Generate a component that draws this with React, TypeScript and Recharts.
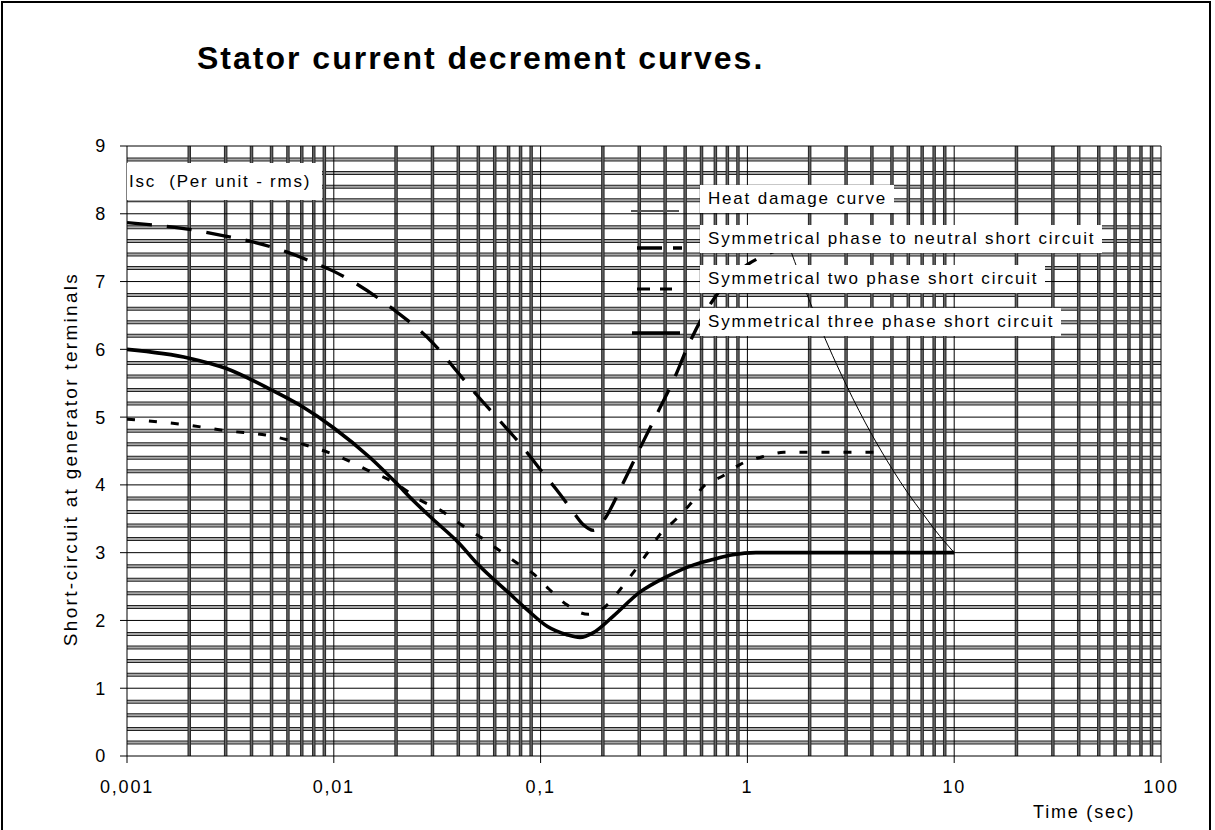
import React from "react";
import { LineChart, Line, XAxis, YAxis, CartesianGrid, Legend } from "recharts";

const FONT = "'Liberation Sans', Arial, sans-serif";

// time (s) / current (p.u. rms)
const T_HEAT = [1.6, 2, 3, 4, 4.5, 5, 6, 7, 8, 9, 10];
const I_HEAT = [7.5, 6.71, 5.48, 4.74, 4.47, 4.24, 3.87, 3.59, 3.35, 3.16, 3.0];

const T_PN = [
  0.001, 0.002, 0.003, 0.004, 0.005, 0.006, 0.008, 0.01, 0.02, 0.03, 0.04, 0.05, 0.06, 0.07, 0.08, 0.09,
  0.1, 0.12, 0.14, 0.16, 0.18, 0.2, 0.25, 0.3, 0.37, 0.44, 0.52, 0.6, 0.8, 1, 1.2, 1.5, 4.5,
];
const I_PN = [
  7.87, 7.77, 7.67, 7.59, 7.51, 7.43, 7.28, 7.15, 6.56, 6.1, 5.65, 5.3, 5.03, 4.8, 4.6, 4.4,
  4.22, 3.92, 3.65, 3.42, 3.33, 3.46, 4.02, 4.52, 5.08, 5.55, 6.07, 6.45, 7.0, 7.25, 7.38, 7.48, 7.48,
];

const T_2P = [
  0.001, 0.002, 0.003, 0.005, 0.008, 0.01, 0.015, 0.02, 0.026, 0.033, 0.04, 0.05, 0.062, 0.075, 0.093, 0.11,
  0.134, 0.17, 0.21, 0.243, 0.286, 0.324, 0.378, 0.45, 0.53, 0.61, 0.76, 0.92, 1.2, 1.5, 4.3,
];
const I_2P = [
  4.97, 4.88, 4.8, 4.72, 4.55, 4.45, 4.2, 4.02, 3.78, 3.62, 3.44, 3.25, 3.05, 2.87, 2.68, 2.46,
  2.23, 2.09, 2.23, 2.46, 2.74, 2.97, 3.27, 3.49, 3.72, 3.97, 4.13, 4.3, 4.42, 4.48, 4.48,
];

const T_3P = [
  0.001, 0.002, 0.003, 0.005, 0.007, 0.01, 0.015, 0.02, 0.024, 0.03, 0.04, 0.05, 0.07, 0.086, 0.108,
  0.134, 0.155, 0.18, 0.224, 0.3, 0.41, 0.55, 0.68, 0.85, 1.1, 10,
];
const I_3P = [
  6.0, 5.87, 5.72, 5.4, 5.16, 4.84, 4.4, 4.03, 3.78, 3.5, 3.15, 2.82, 2.41, 2.16, 1.91,
  1.79, 1.75, 1.82, 2.06, 2.41, 2.65, 2.82, 2.9, 2.97, 3.0, 3.0,
];

const X_TICKS = [0.001, 0.01, 0.1, 1, 10, 100];
const Y_TICKS = [0, 1, 2, 3, 4, 5, 6, 7, 8, 9];
const DECADES = [0.001, 0.01, 0.1, 1, 10];
const MAJOR_X = [0.01, 0.1, 1, 10, 100];
const MAJOR_Y = [1, 2, 3, 4, 5, 6, 7, 8, 9];

const MINOR_X = DECADES.flatMap((d) => [2, 3, 4, 5, 6, 7, 8, 9].map((k) => +(d * k).toPrecision(3)));
const MINOR_Y = Y_TICKS.slice(0, 9).flatMap((n) => [0.2, 0.4, 0.6, 0.8].map((f) => +(n + f).toFixed(1)));

const zip = (ts: number[], vs: number[]) => ts.map((t, i) => ({ t, v: vs[i] }));

const SERIES = [
  { key: "heat", name: "Heat damage curve", data: zip(T_HEAT, I_HEAT), width: 1, dash: undefined, legendColor: "#555", legendWidth: 2, legendDash: undefined },
  { key: "pn", name: "Symmetrical phase to neutral short circuit", data: zip(T_PN, I_PN), width: 3.3, dash: "25 15", legendColor: "#000", legendWidth: 3.3, legendDash: "25 11" },
  { key: "2p", name: "Symmetrical two phase short circuit", data: zip(T_2P, I_2P), width: 3, dash: "8 14", legendColor: "#000", legendWidth: 3, legendDash: "13 10" },
  { key: "3p", name: "Symmetrical three phase short circuit", data: zip(T_3P, I_3P), width: 3.6, dash: undefined, legendColor: "#000", legendWidth: 3.6, legendDash: undefined },
];

// legend row layout, relative to the legend wrapper
const LEGEND_ROWS = [
  { boxTop: 5, sampleY: 31, x1: 11, x2: 59 },
  { boxTop: 45, sampleY: 68, x1: 17, x2: 62 },
  { boxTop: 85, sampleY: 109, x1: 17, x2: 52 },
  { boxTop: 128, sampleY: 153, x1: 12, x2: 60 },
];

const fmtX = (v: number) => String(v).replace(".", ",");

function renderLegend() {
  return (
    <div style={{ position: "relative", width: 520, height: 170, fontFamily: FONT }}>
      <svg style={{ position: "absolute", left: 0, top: 0, overflow: "visible" }} width={70} height={170}>
        {SERIES.map((s, i) => {
          const row = LEGEND_ROWS[i];
          return (
            <line
              key={s.key}
              x1={row.x1}
              x2={row.x2}
              y1={row.sampleY}
              y2={row.sampleY}
              stroke={s.legendColor}
              strokeWidth={s.legendWidth}
              strokeDasharray={s.legendDash}
            />
          );
        })}
      </svg>
      {SERIES.map((s, i) => (
        <div
          key={s.key}
          style={{
            position: "absolute",
            left: 80,
            top: LEGEND_ROWS[i].boxTop,
            height: 28,
            lineHeight: "28px",
            padding: "0 7px 0 8px",
            background: "#fff",
            fontSize: 17,
            letterSpacing: 1.8,
            whiteSpace: "nowrap",
            color: "#000",
          }}
        >
          {s.name}
        </div>
      ))}
    </div>
  );
}

export default function App() {
  return (
    <div style={{ position: "absolute", left: 0, top: 0, width: 1215, height: 830, background: "#fff", overflow: "hidden", fontFamily: FONT }}>
      <style>{"body{margin:0;overflow:hidden}"}</style>
      <div
        style={{
          position: "absolute",
          left: 1,
          top: 1,
          width: 1210,
          height: 840,
          border: "2px solid #000",
          boxSizing: "border-box",
        }}
      />
      <div
        style={{
          position: "absolute",
          left: 197,
          top: 42,
          lineHeight: "32px",
          fontSize: 32,
          fontWeight: "bold",
          letterSpacing: 2,
          whiteSpace: "nowrap",
        }}
      >
        Stator current decrement curves.
      </div>
      <div style={{ position: "absolute", left: 0, top: 0 }}>
        <LineChart width={1215} height={830} margin={{ top: 146, right: 54, left: 27, bottom: 0 }}>
          <CartesianGrid vertical={false} horizontalValues={MINOR_Y} stroke="#222" strokeWidth={4} />
          <CartesianGrid vertical={false} horizontalValues={MINOR_Y} stroke="#a8a8a8" strokeWidth={2} />
          <CartesianGrid horizontal={false} verticalValues={MINOR_X} stroke="#2a2a2a" strokeWidth={3.5} />
          <CartesianGrid horizontal={false} verticalValues={MINOR_X} stroke="#666" strokeWidth={1.4} />
          <CartesianGrid horizontalValues={MAJOR_Y} verticalValues={MAJOR_X} stroke="#000" strokeWidth={1} />
          <XAxis
            dataKey="t"
            type="number"
            scale="log"
            domain={[0.001, 100]}
            allowDataOverflow
            ticks={X_TICKS}
            interval={0}
            tickFormatter={fmtX}
            height={74}
            tickSize={7}
            tickMargin={17}
            axisLine={{ stroke: "#000" }}
            tickLine={{ stroke: "#000" }}
            tick={{ fontSize: 18, fill: "#000", fontFamily: FONT, letterSpacing: 1.8 }}
          />
          <YAxis
            type="number"
            domain={[0, 9]}
            ticks={Y_TICKS}
            interval={0}
            width={100}
            tickSize={7}
            tickMargin={13}
            axisLine={{ stroke: "#000" }}
            tickLine={{ stroke: "#000" }}
            tick={{ fontSize: 18, fill: "#000", fontFamily: FONT, letterSpacing: 1.8 }}
          />
          {SERIES.map((s) => (
            <Line
              key={s.key}
              data={s.data}
              dataKey="v"
              name={s.name}
              type="monotone"
              stroke="#000"
              strokeWidth={s.width}
              strokeDasharray={s.dash}
              dot={false}
              activeDot={false}
              isAnimationActive={false}
            />
          ))}
          <Legend
            layout="vertical"
            align="center"
            verticalAlign="middle"
            content={renderLegend}
            wrapperStyle={{ position: "absolute", left: 620, top: 180, width: 520, height: 170 }}
          />
        </LineChart>
      </div>
      <div
        style={{
          position: "absolute",
          left: 127,
          top: 163,
          width: 195,
          height: 37,
          lineHeight: "37px",
          background: "#fff",
          fontSize: 17,
          letterSpacing: 1.8,
          whiteSpace: "pre",
          paddingLeft: 2,
          boxSizing: "border-box",
        }}
      >
        {"Isc  (Per unit - rms)"}
      </div>
      <div
        style={{
          position: "absolute",
          left: 71,
          top: 459,
          transform: "translate(-50%, -50%) rotate(-90deg)",
          fontSize: 19,
          letterSpacing: 2.3,
          whiteSpace: "nowrap",
        }}
      >
        Short-circuit at generator terminals
      </div>
      <div
        style={{
          position: "absolute",
          left: 1033,
          top: 801,
          fontSize: 18,
          lineHeight: "22px",
          letterSpacing: 1.8,
          whiteSpace: "nowrap",
        }}
      >
        Time (sec)
      </div>
    </div>
  );
}
